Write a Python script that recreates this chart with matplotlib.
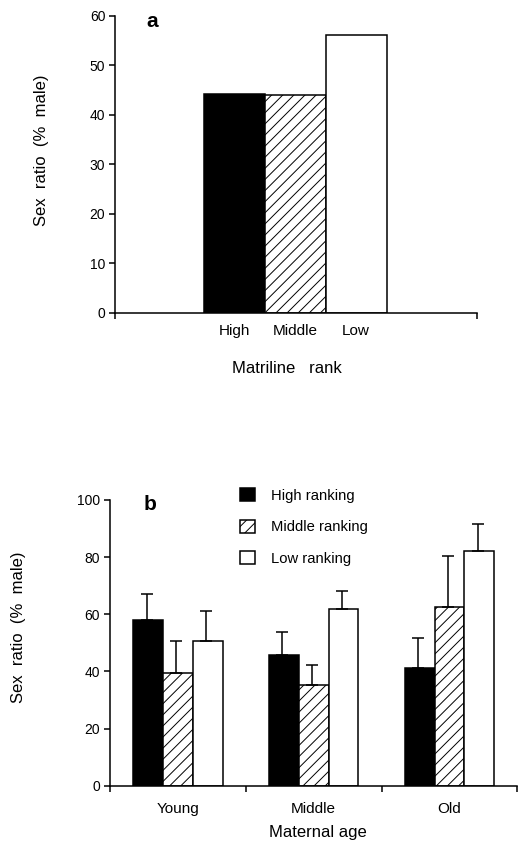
import numpy as np
import matplotlib
matplotlib.use('Agg')
import matplotlib.pyplot as plt
from matplotlib.patches import Patch

plt.rcParams['font.family'] = ['Liberation Sans', 'DejaVu Sans']
plt.rcParams['hatch.linewidth'] = 0.7

# panel a data
ranks = ['High', 'Middle', 'Low']
rank_ratio = [44.2, 44.1, 56.1]

# panel b data
ages = ['Young', 'Middle', 'Old']
high = [58.0, 45.6, 41.1]
middle = [39.3, 35.2, 62.7]
low = [50.6, 61.7, 82.3]
err_high = [9.0, 8.3, 10.5]
err_middle = [11.3, 6.9, 17.7]
err_low = [10.5, 6.5, 9.3]
legend_labels = ['High ranking', 'Middle ranking', 'Low ranking']

fills = ['black', 'white', 'white']
hatches = [None, '///', None]
lw = 1.1

fig = plt.figure(figsize=(5.18, 8.41), dpi=100)

# ---- panel a
ax1 = fig.add_axes([0.222, 0.628, 0.699, 0.353])
pos = np.arange(len(ranks))
for i in range(len(ranks)):
    ax1.bar(pos[i], rank_ratio[i], width=1.0, color=fills[i], hatch=hatches[i],
            edgecolor='black', linewidth=lw)
ax1.set_xlim(-1.95, 3.98)
ax1.set_ylim(0, 60)
ax1.set_yticks(range(0, 61, 10))
ax1.set_xticks(pos)
ax1.set_xticklabels(ranks, fontsize=11)
ax1.set_xticks([-1.95, 3.98], minor=True)
ax1.tick_params(axis='x', which='major', length=0, pad=8)
ax1.tick_params(axis='x', which='minor', length=4, width=1.1)
ax1.tick_params(axis='y', length=4, width=1.1, labelsize=10, pad=3)
for s in ['top', 'right']:
    ax1.spines[s].set_visible(False)
for s in ['left', 'bottom']:
    ax1.spines[s].set_linewidth(1.1)

fig.text(0.081, 0.8216, 'Sex  ratio  (%  male)', rotation=90, ha='center', va='center', fontsize=12)
fig.text(0.554, 0.5624, 'Matriline   rank', ha='center', va='center', fontsize=12)
fig.text(152 / 518, 1 - 27 / 841, 'a', ha='center', va='baseline', fontsize=15, fontweight='bold')

# ---- panel b
ax2 = fig.add_axes([0.212, 0.0657, 0.787, 0.3398])
centers = np.arange(len(ages)) + 0.5
w = 0.22
series = [high, middle, low]
errs = [err_high, err_middle, err_low]
handles = []
for k in range(3):
    x = centers + (k - 1) * w
    ax2.bar(x, series[k], width=w, color=fills[k], hatch=hatches[k],
            edgecolor='black', linewidth=lw)
    ax2.errorbar(x - 0.01, series[k], yerr=[np.zeros(3), errs[k]], fmt='none',
                 ecolor='black', elinewidth=1.1, capsize=4.5, capthick=1.1)
    handles.append(Patch(facecolor=fills[k], hatch=hatches[k], edgecolor='black', linewidth=lw))
ax2.set_xlim(0, 3)
ax2.set_ylim(0, 100)
ax2.set_yticks(range(0, 101, 20))
ax2.set_xticks([0, 1, 2, 3])
ax2.set_xticklabels([])
ax2.set_xticks(centers, minor=True)
ax2.set_xticklabels(ages, minor=True, fontsize=11)
ax2.tick_params(axis='x', which='major', length=4, width=1.1)
ax2.tick_params(axis='x', which='minor', length=0, pad=12)
ax2.tick_params(axis='y', length=4, width=1.1, labelsize=10, pad=3)
for s in ['top', 'right']:
    ax2.spines[s].set_visible(False)
for s in ['left', 'bottom']:
    ax2.spines[s].set_linewidth(1.1)

fig.legend(handles, legend_labels, loc='upper left', bbox_to_anchor=(240 / 518, 1 - 488 / 841),
           frameon=False, fontsize=10.6, borderpad=0, borderaxespad=0,
           handlelength=1.0, handleheight=1.0, handletextpad=1.1, labelspacing=1.15)

fig.text(0.035, 0.2545, 'Sex  ratio  (%  male)', rotation=90, ha='center', va='center', fontsize=12)
fig.text(0.614, 0.001, 'Maternal age', ha='center', va='bottom', fontsize=12)
fig.text(150 / 518, 1 - 510 / 841, 'b', ha='center', va='baseline', fontsize=15, fontweight='bold')

fig.savefig('out.png', dpi=100)
